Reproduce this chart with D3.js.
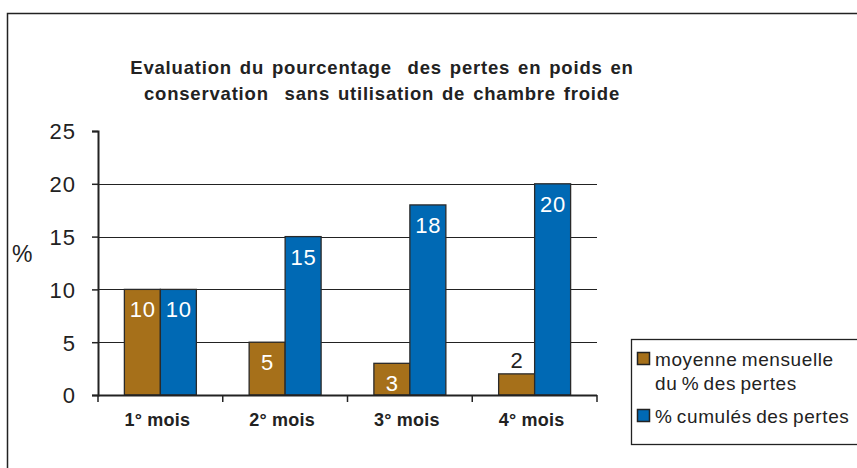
<!DOCTYPE html>
<html><head><meta charset="utf-8">
<script src="https://cdn.jsdelivr.net/npm/d3@7"></script>
<style>body{margin:0;background:#fff}svg{display:block;font-family:"Liberation Sans",Arial,sans-serif}text{white-space:pre}</style>
</head><body>
<script>
const categories = ["1° mois", "2° mois", "3° mois", "4° mois"];
const seriesNames = ["moyenne mensuelle du % des pertes", "% cumulés des pertes"];
const moyenne = [10, 5, 3, 2];
const cumules = [10, 15, 18, 20];
const yTicks = [0, 5, 10, 15, 20, 25];
const colors = ["#A6701A", "#0069B4"];
const titleLines = ["Evaluation du pourcentage  des pertes en poids en", "conservation  sans utilisation de chambre froide"];
const legendLines = [["moyenne mensuelle", "du % des pertes"], ["% cumulés des pertes"]];

const W = 857, H = 468;
const svg = d3.select("body").append("svg").attr("width", W).attr("height", H);

// outer frame
svg.append("path").attr("d", `M7.5,${H} L7.5,13.5 L${W},13.5`).attr("fill", "none").attr("stroke", "#222").attr("stroke-width", 1.5);

const x0 = 98, x1 = 597, yB = 395, yT = 131;
const y = d3.scaleLinear().domain([0, 25]).range([yB, yT]);
const x = d3.scaleBand().domain(categories).range([x0, x1]).paddingInner(0.423).paddingOuter(0.2115);
const xs = d3.scaleBand().domain([0, 1]).range([0, x.bandwidth()]);

// gridlines
svg.append("g").selectAll("line").data(yTicks.filter(t => t > 0 && t < 25)).join("line")
  .attr("x1", x0).attr("x2", x1).attr("y1", d => Math.round(y(d)) + 0.5).attr("y2", d => Math.round(y(d)) + 0.5)
  .attr("stroke", "#222").attr("stroke-width", 1.2);

// bars
const data = categories.map((c, i) => [moyenne[i], cumules[i]]);
const g = svg.append("g");
categories.forEach((c, i) => {
  data[i].forEach((v, s) => {
    const bx = x(c) + xs(s), by = y(v);
    g.append("rect").attr("x", bx).attr("y", by).attr("width", xs.bandwidth()).attr("height", yB - by)
      .attr("fill", colors[s]).attr("stroke", "#2a2a2a").attr("stroke-width", 1.3);
    const small = (yB - by) < 30;
    g.append("text").attr("x", bx + xs.bandwidth() / 2 + 0.5).attr("y", small ? by - 6 : by + 28)
      .attr("text-anchor", "middle").attr("font-size", 22).attr("letter-spacing", 1)
      .attr("fill", small ? "#222" : "#fff").text(v);
  });
});

// y axis
const ya = d3.axisLeft(y).tickValues(yTicks).tickSize(6).tickPadding(22);
const yg = svg.append("g").attr("transform", `translate(${x0},0)`).call(ya);
yg.select(".domain").attr("stroke", "#222").attr("stroke-width", 2);
yg.selectAll(".tick line").attr("stroke", "#222").attr("stroke-width", 1.5);
yg.selectAll(".tick text").attr("font-size", 22).attr("letter-spacing", 1).attr("fill", "#222")
  .attr("x", -22).attr("dy", "0.36em").attr("font-family", "Liberation Sans, Arial, sans-serif");

// x axis
const xa = d3.axisBottom(x).tickSize(0).tickPadding(0);
const xg = svg.append("g").attr("transform", `translate(0,${yB})`).call(xa);
xg.select(".domain").remove();
xg.append("line").attr("x1", x0).attr("x2", x1).attr("y1", 0.5).attr("y2", 0.5).attr("stroke", "#222").attr("stroke-width", 2);
const bounds = categories.map(c => x(c) - x.step() * x.paddingOuter()).concat([x1]);
xg.selectAll("line.bnd").data(bounds).join("line").attr("class", "bnd")
  .attr("x1", d => d).attr("x2", d => d).attr("y1", 0).attr("y2", 7).attr("stroke", "#222").attr("stroke-width", 1.5);
xg.selectAll(".tick text").attr("font-size", 18).attr("font-weight", "bold").attr("fill", "#222")
  .attr("x", -3).attr("y", 31).attr("dy", 0).attr("letter-spacing", 0.2).attr("font-family", "Liberation Sans, Arial, sans-serif");

// y label
svg.append("text").attr("x", 12).attr("y", 262).attr("font-size", 23).attr("fill", "#222").text("%");

// title
svg.append("g").selectAll("text").data(titleLines).join("text")
  .attr("x", 382).attr("y", (d, i) => 74 + i * 26).attr("text-anchor", "middle")
  .attr("font-size", 18.5).attr("font-weight", "bold").attr("letter-spacing", 0.8).attr("word-spacing", 2)
  .attr("fill", "#222").text(d => d);

// legend
svg.append("rect").attr("x", 631.5).attr("y", 339.5).attr("width", 240).attr("height", 105)
  .attr("fill", "#fff").attr("stroke", "#222").attr("stroke-width", 1.3);
const legY = [366, 423];
legendLines.forEach((lines, s) => {
  svg.append("rect").attr("x", 637.5).attr("y", legY[s] - 13.5).attr("width", 12).attr("height", 12)
    .attr("fill", colors[s]).attr("stroke", "#222").attr("stroke-width", 1.5);
  lines.forEach((t, k) => {
    svg.append("text").attr("x", 655).attr("y", legY[s] + k * 24).attr("font-size", 19)
      .attr("fill", "#222").attr("letter-spacing", 0.6).attr("word-spacing", -1.5).text(t);
  });
});
</script>
</body></html>
